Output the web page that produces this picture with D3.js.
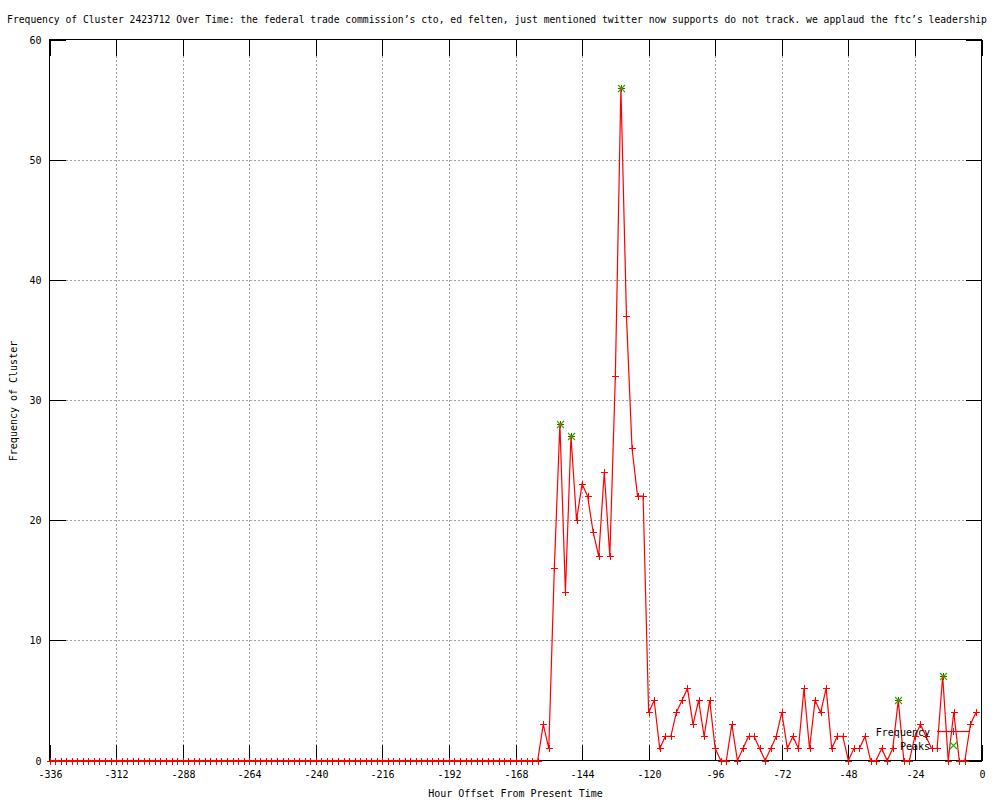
<!DOCTYPE html>
<html>
<head>
<meta charset="utf-8">
<script src="https://cdn.jsdelivr.net/npm/d3@7"></script>
<style>
  html, body { margin: 0; padding: 0; background: #fff; }
  svg { display: block; }
  text { font-family: "DejaVu Sans Mono", "Liberation Mono", monospace; font-size: 10px; fill: #000; }
</style>
</head>
<body>
<svg id="chart" width="1000" height="800"></svg>
<script>
// ---- data ----
const titleText = "Frequency of Cluster 2423712 Over Time: the federal trade commission’s cto, ed felten, just mentioned twitter now supports do not track. we applaud the ftc’s leadership";
const xLabel = "Hour Offset From Present Time";
const yLabel = "Frequency of Cluster";
const hourStart = -336;
const hourStep = 2;
const frequency = [
  0,0,0,0,0,0,0,0,0,0, 0,0,0,0,0,0,0,0,0,0,
  0,0,0,0,0,0,0,0,0,0, 0,0,0,0,0,0,0,0,0,0,
  0,0,0,0,0,0,0,0,0,0, 0,0,0,0,0,0,0,0,0,0,
  0,0,0,0,0,0,0,0,0,0, 0,0,0,0,0,0,0,0,0,0,
  0,0,0,0,0,0,0,0,0,
  3,1,16,28,14,27,20,23,22,19,
  17,24,17,32,56,37,26,22,22,4,
  5,1,2,2,4,5,6,3,5,2,
  5,1,0,0,3,0,1,2,2,1,
  0,1,2,4,1,2,1,6,1,5,
  4,6,1,2,2,0,1,1,2,0,
  0,1,0,1,5,0,0,2,3,2,
  1,1,7,0,4,0,0,3,4
];
const peakHours = [-152, -148, -130, -30, -14];
const peakValues = [28, 27, 56, 5, 7];
const xTicks = [-336, -312, -288, -264, -240, -216, -192, -168, -144, -120, -96, -72, -48, -24, 0];
const yTicks = [0, 10, 20, 30, 40, 50, 60];
const legendLabels = ["Frequency", "Peaks"];

// ---- chart ----
const svg = d3.select("#chart");
const L = 49.5, R = 981.5, T = 39.5, B = 760.5;
const x = d3.scaleLinear().domain([-336, 0]).range([L, R]);
const y = d3.scaleLinear().domain([0, 60]).range([B, T]);
const red = "#ff0000", green = "#00c000";
const tickLen = 16;

const series = frequency.map((v, i) => ({ h: hourStart + i * hourStep, v }));
const peaks = peakHours.map((h, i) => ({ h, v: peakValues[i] }));

// grid
const grid = svg.append("g").attr("stroke", "#a0a0a0").attr("stroke-dasharray", "2,2")
  .attr("shape-rendering", "crispEdges");
xTicks.filter(t => t > -336 && t < 0).forEach(t => {
  grid.append("line").attr("x1", Math.round(x(t)) + 0.5).attr("x2", Math.round(x(t)) + 0.5)
    .attr("y1", T).attr("y2", B);
});
yTicks.filter(t => t > 0 && t < 60).forEach(t => {
  grid.append("line").attr("x1", L).attr("x2", R)
    .attr("y1", Math.round(y(t)) + 0.5).attr("y2", Math.round(y(t)) + 0.5);
});

// axes using d3 axis generators (ticks inward, mirrored)
function styleAxis(g) {
  g.select(".domain").remove();
  g.selectAll(".tick line").attr("stroke", "#000").attr("shape-rendering", "crispEdges");
  g.selectAll(".tick text").style("font-family", "'DejaVu Sans Mono', monospace").style("font-size", "10px").attr("fill", "#000");
}
const xAxisB = d3.axisBottom(x).tickValues(xTicks).tickFormat(d => String(d)).tickSizeInner(-tickLen).tickPadding(10);
svg.append("g").attr("transform", `translate(0,${B})`).call(xAxisB).call(styleAxis)
  .selectAll(".tick").attr("transform", d => `translate(${Math.round(x(d)) + 0.5},0)`);
const xAxisT = d3.axisTop(x).tickValues(xTicks).tickFormat("").tickSizeInner(-tickLen);
svg.append("g").attr("transform", `translate(0,${T})`).call(xAxisT).call(styleAxis)
  .selectAll(".tick").attr("transform", d => `translate(${Math.round(x(d)) + 0.5},0)`);
const yAxisL = d3.axisLeft(y).tickValues(yTicks).tickFormat(d => String(d)).tickSizeInner(-tickLen).tickPadding(8);
svg.append("g").attr("transform", `translate(${L},0)`).call(yAxisL).call(styleAxis)
  .selectAll(".tick").attr("transform", d => `translate(0,${Math.round(y(d)) + 0.5})`);
const yAxisR = d3.axisRight(y).tickValues(yTicks).tickFormat("").tickSizeInner(-tickLen);
svg.append("g").attr("transform", `translate(${R},0)`).call(yAxisR).call(styleAxis)
  .selectAll(".tick").attr("transform", d => `translate(0,${Math.round(y(d)) + 0.5})`);

// border
svg.append("rect").attr("x", L).attr("y", T).attr("width", R - L).attr("height", B - T)
  .attr("fill", "none").attr("stroke", "#000").attr("shape-rendering", "crispEdges");

// frequency line
const line = d3.line().x(d => x(d.h)).y(d => y(d.v));
svg.append("path").datum(series).attr("d", line).attr("fill", "none")
  .attr("stroke", red).attr("stroke-width", 1.2);

// plus markers
const ps = 3.5;
function plus(g, cx, cy, color) {
  g.append("path").attr("d", `M${cx - ps},${cy}H${cx + ps}M${cx},${cy - ps}V${cy + ps}`)
    .attr("stroke", color).attr("stroke-width", 1.2).attr("fill", "none").attr("shape-rendering", "crispEdges");
}
function cross(g, cx, cy, color) {
  g.append("path").attr("d", `M${cx - ps},${cy - ps}L${cx + ps},${cy + ps}M${cx - ps},${cy + ps}L${cx + ps},${cy - ps}`)
    .attr("stroke", color).attr("stroke-width", 1.1).attr("fill", "none");
}
const mg = svg.append("g");
series.forEach(d => plus(mg, Math.round(x(d.h)) + 0.5, Math.round(y(d.v)) + 0.5, red));
const pg = svg.append("g");
peaks.forEach(d => cross(pg, Math.round(x(d.h)) + 0.5, Math.round(y(d.v)) + 0.5, green));

// legend
const lg = svg.append("g");
lg.append("text").attr("x", 930).attr("y", 736).attr("text-anchor", "end").text(legendLabels[0]);
lg.append("line").attr("x1", 937).attr("x2", 969).attr("y1", 731.5).attr("y2", 731.5)
  .attr("stroke", red).attr("stroke-width", 1.2);
plus(lg, 953.5, 731.5, red);
lg.append("text").attr("x", 930).attr("y", 750).attr("text-anchor", "end").text(legendLabels[1]);
cross(lg, 953.5, 745.5, green);

// title & labels
svg.append("text").attr("x", 497).attr("y", 23).attr("text-anchor", "middle")
  .style("font-size", "9.7px").text(titleText);
svg.append("text").attr("x", (L + R) / 2).attr("y", 797).attr("text-anchor", "middle").text(xLabel);
svg.append("text").attr("transform", "translate(17,401) rotate(-90)").attr("text-anchor", "middle").text(yLabel);
</script>
</body>
</html>
